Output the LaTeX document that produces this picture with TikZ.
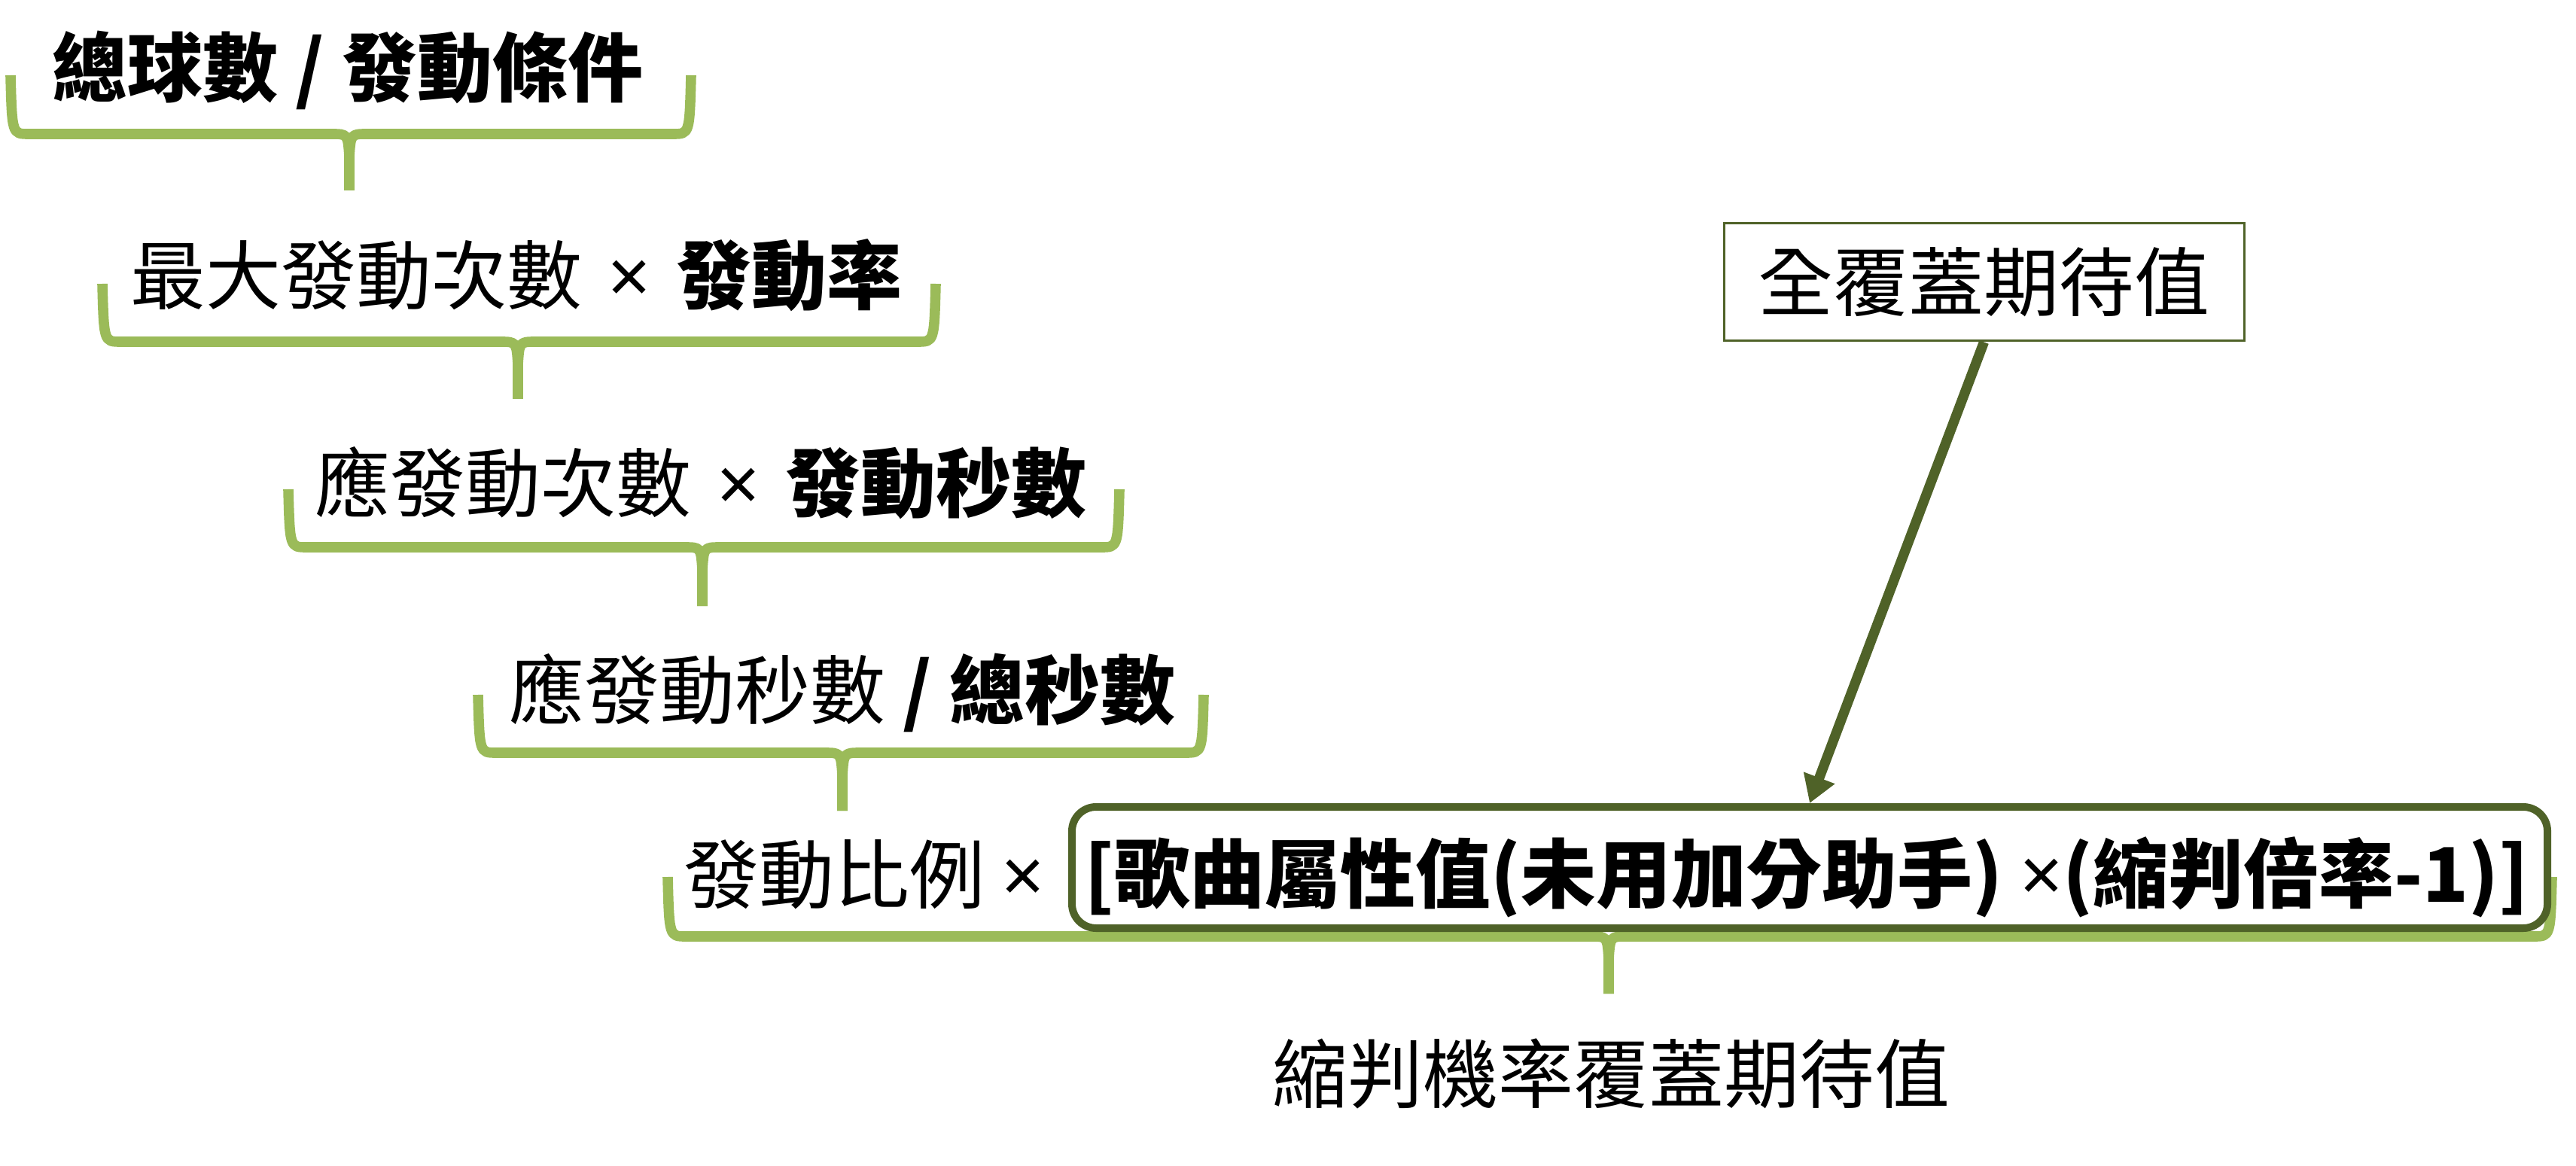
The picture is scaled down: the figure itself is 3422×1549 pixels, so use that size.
\documentclass[tikz,border=0pt]{standalone}
\usepackage{fontspec}
\setmainfont{Noto Sans CJK TC}
\newfontfamily\latinfont{Noto Sans}
\newcommand\tms{{\latinfont ×}}
\newcommand\gap{\hspace{0.34em}}
\usetikzlibrary{arrows.meta}
\definecolor{bracegreen}{HTML}{9BBB59}
\definecolor{darkolive}{HTML}{4F6228}
\newcommand\mybrace[6]{%
  \draw[bracestroke] (#1,#3) .. controls (#1+2,#4) .. (#1+24,#4) -- (#5-24,#4) .. controls (#5-2,#4) .. (#5,#4+30) -- (#5,#6);
  \draw[bracestroke] (#2,#3) .. controls (#2-2,#4) .. (#2-24,#4) -- (#5+24,#4) .. controls (#5+2,#4) .. (#5,#4+30) -- (#5,#6);
}
\begin{document}
\begin{tikzpicture}[x=0.25pt,y=-0.25pt,
  txt/.style={inner sep=0pt, outer sep=0pt, anchor=base, font=\fontsize{25pt}{30pt}\selectfont},
  bracestroke/.style={draw=bracegreen, line width=3.4pt, line join=round},
  formulabox/.style={draw=darkolive, line width=2.5pt, rounded corners=8pt, inner sep=0pt,
    minimum width=490pt, minimum height=40.25pt},
  labelbox/.style={draw=darkolive, line width=0.75pt, fill=white, inner sep=0pt,
    minimum width=172.75pt, minimum height=39pt, font=\fontsize{25pt}{30pt}\selectfont},
  feed/.style={draw=darkolive, line width=3.3pt, -{Triangle[length=9pt,width=10.5pt]}}]
\useasboundingbox (0,0) rectangle (3422,1549);
% braces
\mybrace{14}{918}{100}{178}{464}{253}
\mybrace{136}{1243}{377}{454}{688}{530}
\mybrace{383}{1487}{650}{727}{933}{805}
\mybrace{635}{1599}{923}{1000}{1119}{1077}
\mybrace{887}{3390}{1165}{1244}{2137}{1320}
% texts
\node[txt] (t1) at (462,128) {\bfseries 總球數 / 發動條件};
\node[txt] (t2) at (686,404) {最大發動次數{\bfseries\gap\tms\gap 發動率}};
\node[txt] (t3) at (931,680) {應發動次數{\bfseries\gap\tms\gap 發動秒數}};
\node[txt] (t4) at (1119,954) {應發動秒數{\bfseries{} / 總秒數}};
\node[txt, anchor=base west] (t5) at (908,1199) {發動比例 \tms};
\node[formulabox] (bigbox) at (2404,1152.5) {};
\node[txt] (bigtext) at (2400,1198) {\bfseries [歌曲屬性值(未用加分助手) \tms(縮判倍率-1)]};
\node[txt] (t6) at (2140,1464) {縮判機率覆蓋期待值};
\node[labelbox] (full) at (2635.5,375) {全覆蓋期待值};
\draw[feed] (full.south) -- (bigbox.north);
\end{tikzpicture}
\end{document}
